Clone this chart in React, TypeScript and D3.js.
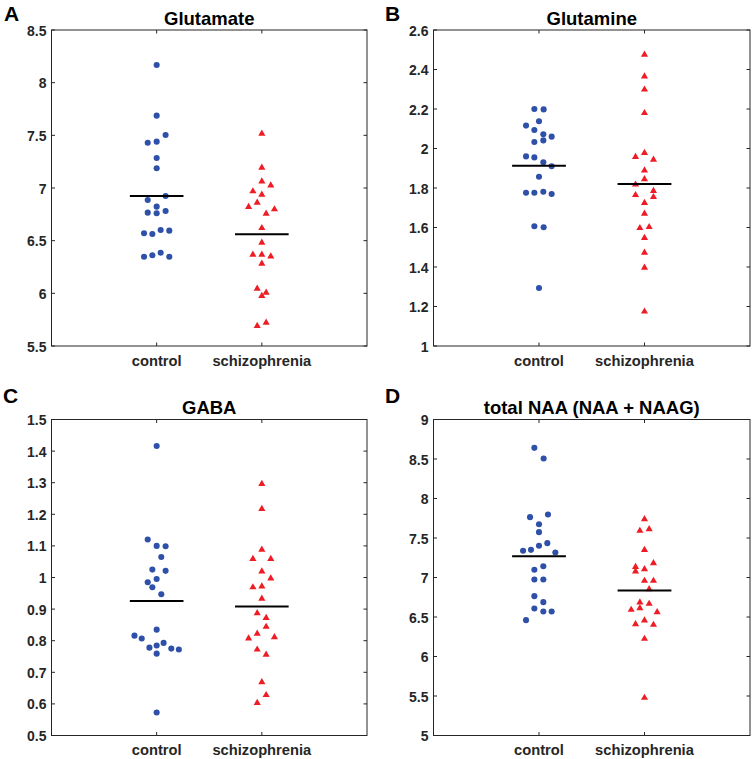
import React, { useEffect, useRef } from "react";
import * as d3 from "d3";

// ---------- data ----------
const categories = ["control", "schizophrenia"];

const glutamateControl = [8.168, 7.687, 7.503, 7.43, 7.44, 7.285, 7.187, 6.924, 6.886, 6.823, 6.766, 6.76, 6.782, 6.57, 6.563, 6.601, 6.595, 6.348, 6.361, 6.386, 6.348];
const glutamateControlJitter = [0, 0, 0.085, -0.085, 0, 0, 0, 0.085, -0.085, 0, -0.085, 0, 0.085, -0.12, -0.041, 0.038, 0.12, -0.12, -0.041, 0.038, 0.12];
const glutamateSchizo = [7.519, 7.196, 7.066, 7.028, 6.972, 6.94, 6.864, 6.823, 6.801, 6.76, 6.623, 6.484, 6.37, 6.37, 6.354, 6.285, 6.047, 6.009, 5.978, 5.693, 5.725];
const glutamateSchizoJitter = [0, 0, 0, 0.085, -0.085, 0, -0.044, -0.126, 0.12, 0.041, 0, 0, -0.085, 0, 0.085, 0, -0.044, 0.041, 0, -0.044, 0.041];
const glutamateMeans = [6.924, 6.56];
const glutamateTicks = ["5.5", "6", "6.5", "7", "7.5", "8", "8.5"];

const glutamineControl = [2.2, 2.198, 2.116, 2.138, 2.094, 2.072, 2.06, 2.033, 2.041, 1.96, 1.955, 1.93, 1.91, 1.857, 1.776, 1.776, 1.781, 1.77, 1.606, 1.601, 1.294];
const glutamineControlJitter = [-0.044, 0.044, -0.123, 0, -0.044, 0.041, 0.12, -0.044, 0.041, -0.123, -0.044, 0.041, 0.12, 0, -0.123, -0.044, 0.041, 0.12, -0.044, 0.044, 0];
const glutamineSchizo = [2.477, 2.367, 2.3, 2.181, 1.959, 1.979, 1.945, 1.891, 1.846, 1.819, 1.787, 1.766, 1.756, 1.726, 1.672, 1.599, 1.604, 1.549, 1.474, 1.398, 1.176];
const glutamineSchizoJitter = [0, 0, 0, 0, -0.085, 0, 0.085, 0, 0, -0.085, 0.085, -0.085, 0.085, 0, 0, -0.044, 0.044, 0, 0, 0, 0];
const glutamineMeans = [1.913, 1.82];
const glutamineTicks = ["1", "1.2", "1.4", "1.6", "1.8", "2", "2.2", "2.4", "2.6"];

const gabaControl = [1.416, 1.12, 1.1, 1.099, 1.065, 1.025, 1.021, 0.995, 0.985, 0.969, 0.947, 0.835, 0.816, 0.807, 0.778, 0.785, 0.793, 0.775, 0.772, 0.759, 0.573];
const gabaControlJitter = [0, -0.085, 0, 0.085, 0.044, -0.041, 0.085, 0, -0.085, -0.041, 0.044, 0, -0.211, -0.142, -0.069, 0, 0.066, 0.139, 0.211, 0, 0];
const gabaSchizo = [1.297, 1.218, 1.089, 1.06, 1.06, 1.02, 0.998, 0.97, 0.973, 0.934, 0.888, 0.873, 0.845, 0.823, 0.808, 0.812, 0.773, 0.757, 0.67, 0.629, 0.604];
const gabaSchizoJitter = [0, 0, 0, -0.085, 0.085, 0, 0.085, -0.085, 0, 0, -0.044, 0.041, 0.041, -0.044, -0.126, 0.12, -0.044, 0.041, 0, 0.041, -0.044];
const gabaMeans = [0.926, 0.908];
const gabaTicks = ["0.5", "0.6", "0.7", "0.8", "0.9", "1", "1.1", "1.2", "1.3", "1.4", "1.5"];

const naaControl = [8.641, 8.506, 7.764, 7.797, 7.675, 7.574, 7.338, 7.35, 7.401, 7.435, 7.316, 7.097, 7.143, 6.975, 6.975, 6.764, 6.688, 6.608, 6.57, 6.57, 6.46];
const naaControlJitter = [-0.044, 0.044, -0.085, 0.085, 0, 0, -0.151, -0.076, 0, 0.079, 0.155, -0.044, 0.041, -0.044, 0.041, -0.044, 0.041, -0.044, 0.041, 0.12, -0.123];
const naaSchizo = [7.743, 7.595, 7.616, 7.354, 7.139, 7.08, 7.11, 7.186, 6.962, 6.962, 6.857, 6.688, 6.671, 6.616, 6.595, 6.565, 6.414, 6.46, 6.405, 6.228, 5.481];
const naaSchizoJitter = [0, -0.044, 0.044, 0, -0.085, -0.085, 0, 0.085, 0, 0.085, 0.044, -0.044, 0.044, -0.044, -0.126, 0.12, -0.085, 0, 0.085, 0, 0];
const naaMeans = [7.27, 6.835];
const naaTicks = ["5", "5.5", "6", "6.5", "7", "7.5", "8", "8.5", "9"];

// ---------- layout ----------
const W = 752;
const H = 759;
const FONT = "'Liberation Sans', Arial, Helvetica, sans-serif";
const BLUE = "#2f50a8";
const RED = "#ee1c25";
const AXIS = "#262626";

const panels = [
  { letter: "A", title: "Glutamate", x0: 51.5, x1: 367, y0: 30, y1: 346, ticks: glutamateTicks,
    control: glutamateControl, controlJ: glutamateControlJitter, schizo: glutamateSchizo, schizoJ: glutamateSchizoJitter, means: glutamateMeans, lx: 4, ly: 20.5 },
  { letter: "B", title: "Glutamine", x0: 433.5, x1: 750, y0: 30, y1: 346, ticks: glutamineTicks,
    control: glutamineControl, controlJ: glutamineControlJitter, schizo: glutamineSchizo, schizoJ: glutamineSchizoJitter, means: glutamineMeans, lx: 385, ly: 20.5 },
  { letter: "C", title: "GABA", x0: 51.5, x1: 367, y0: 419.5, y1: 735.5, ticks: gabaTicks,
    control: gabaControl, controlJ: gabaControlJitter, schizo: gabaSchizo, schizoJ: gabaSchizoJitter, means: gabaMeans, lx: 3, ly: 403 },
  { letter: "D", title: "total NAA (NAA + NAAG)", x0: 433.5, x1: 750, y0: 419.5, y1: 735.5, ticks: naaTicks,
    control: naaControl, controlJ: naaControlJitter, schizo: naaSchizo, schizoJ: naaSchizoJitter, means: naaMeans, lx: 385, ly: 403 },
];

export default function App() {
  const ref = useRef<SVGSVGElement | null>(null);

  useEffect(() => {
    const svg = d3.select(ref.current);
    svg.selectAll("*").remove();

    const circle = d3.symbol().type(d3.symbolCircle).size(29)();
    const tri = d3.symbol().type(d3.symbolTriangle).size(22)();

    panels.forEach((p) => {
      const tickVals = p.ticks.map(Number);
      const x = d3.scaleLinear().domain([0, 3]).range([p.x0, p.x1]);
      const y = d3.scaleLinear().domain([tickVals[0], tickVals[tickVals.length - 1]]).range([p.y1, p.y0]);
      const g = svg.append("g");

      // box
      g.append("rect")
        .attr("x", p.x0).attr("y", p.y0)
        .attr("width", p.x1 - p.x0).attr("height", p.y1 - p.y0)
        .attr("fill", "white").attr("stroke", AXIS).attr("stroke-width", 1);

      // y ticks (inner, both sides)
      const tl = 3.5;
      tickVals.forEach((v, i) => {
        const yy = y(v);
        g.append("line").attr("x1", p.x0).attr("x2", p.x0 + tl).attr("y1", yy).attr("y2", yy).attr("stroke", AXIS);
        g.append("line").attr("x1", p.x1).attr("x2", p.x1 - tl).attr("y1", yy).attr("y2", yy).attr("stroke", AXIS);
        g.append("text")
          .attr("x", p.x0 - 5).attr("y", yy + 5.5)
          .attr("text-anchor", "end")
          .attr("font-family", FONT).attr("font-weight", "bold").attr("font-size", 14)
          .attr("fill", AXIS)
          .text(p.ticks[i]);
      });

      // x ticks (inner, top and bottom)
      categories.forEach((c, i) => {
        const xx = x(i + 1);
        g.append("line").attr("x1", xx).attr("x2", xx).attr("y1", p.y1).attr("y2", p.y1 - tl).attr("stroke", AXIS);
        g.append("line").attr("x1", xx).attr("x2", xx).attr("y1", p.y0).attr("y2", p.y0 + tl).attr("stroke", AXIS);
        g.append("text")
          .attr("x", xx).attr("y", p.y1 + 19.5)
          .attr("text-anchor", "middle")
          .attr("font-family", FONT).attr("font-weight", "bold").attr("font-size", 14.7)
          .attr("fill", AXIS)
          .text(c);
      });

      // points
      p.control.forEach((v, i) => {
        g.append("path").attr("d", circle)
          .attr("transform", `translate(${x(1 + p.controlJ[i])},${y(v)})`)
          .attr("fill", BLUE);
      });
      p.schizo.forEach((v, i) => {
        g.append("path").attr("d", tri)
          .attr("transform", `translate(${x(2 + p.schizoJ[i])},${y(v) + 0.3})`)
          .attr("fill", RED);
      });

      // mean lines
      p.means.forEach((m, i) => {
        g.append("line")
          .attr("x1", x(i + 1 - 0.255)).attr("x2", x(i + 1 + 0.255))
          .attr("y1", y(m)).attr("y2", y(m))
          .attr("stroke", "#000").attr("stroke-width", 2);
      });

      // title
      g.append("text")
        .attr("x", (p.x0 + p.x1) / 2).attr("y", p.y0 - 5.5)
        .attr("text-anchor", "middle")
        .attr("font-family", FONT).attr("font-weight", "bold").attr("font-size", 18.5)
        .attr("fill", "#000")
        .text(p.title);

      // panel letter
      g.append("text")
        .attr("x", p.lx).attr("y", p.ly)
        .attr("font-family", FONT).attr("font-weight", "bold").attr("font-size", 21)
        .attr("fill", "#000")
        .text(p.letter);
    });
  }, []);

  return (
    <svg
      ref={ref}
      width={W}
      height={H}
      style={{ position: "absolute", left: 0, top: 0, background: "white" }}
    />
  );
}
